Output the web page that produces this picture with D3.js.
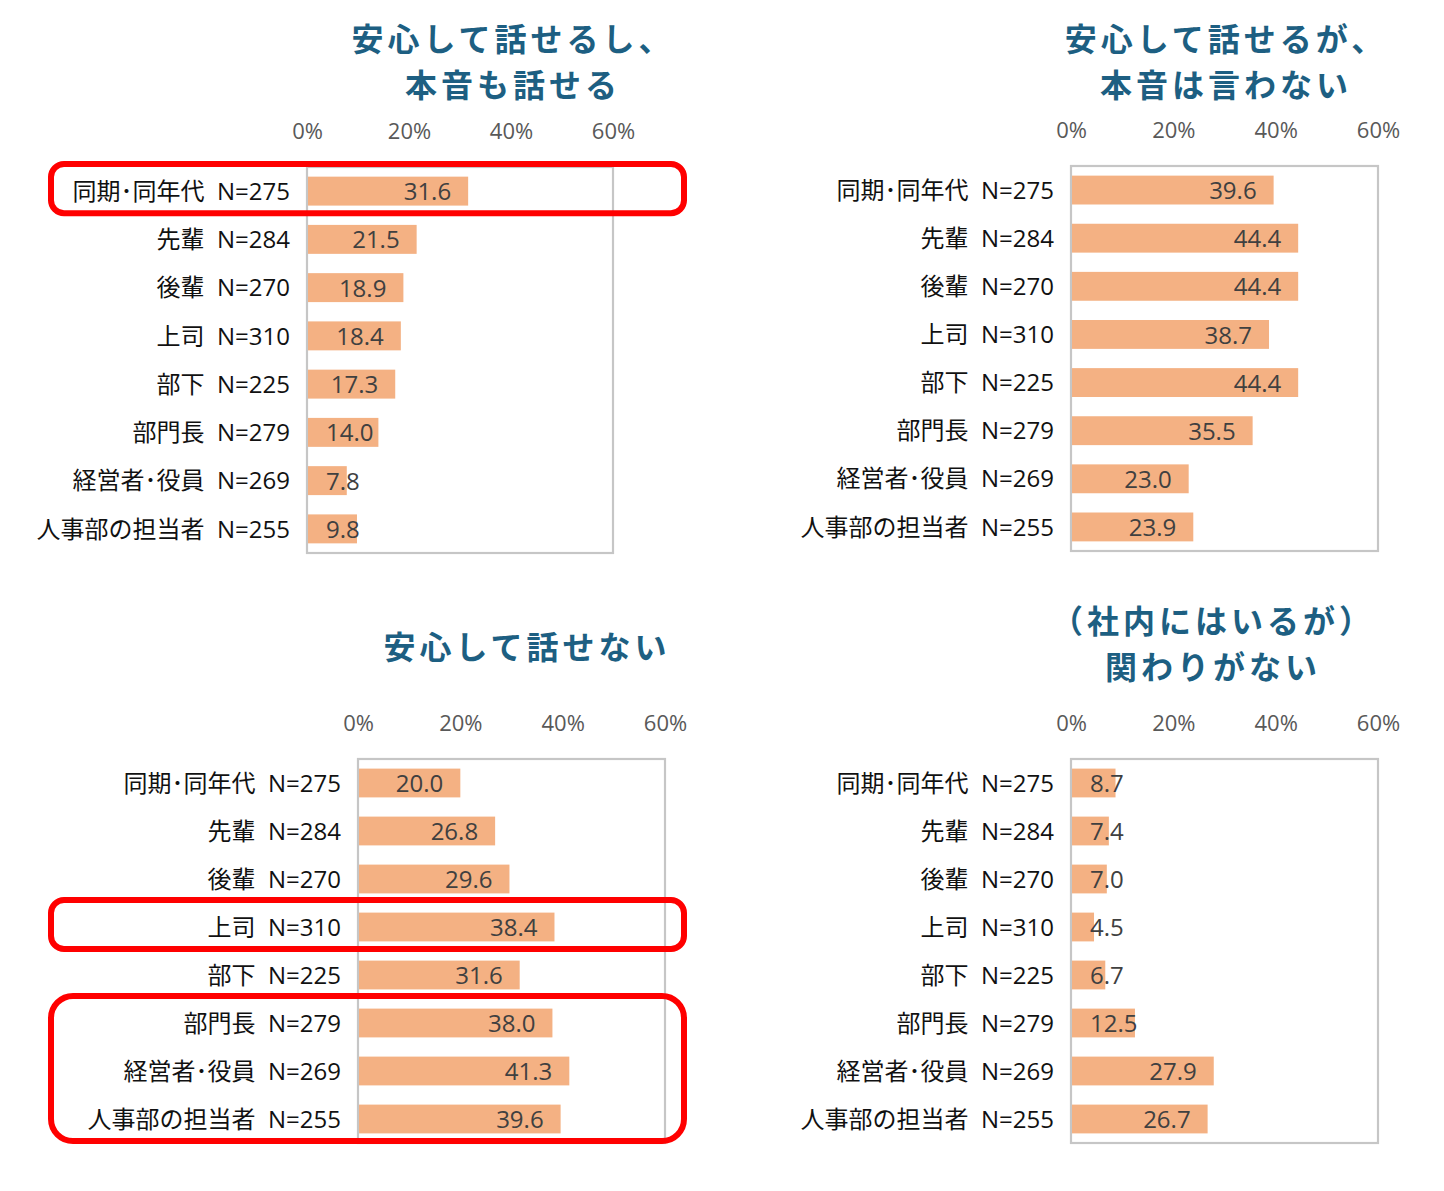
<!DOCTYPE html>
<html><head><meta charset="utf-8">
<script src="https://cdn.jsdelivr.net/npm/d3@7/dist/d3.min.js"></script>
<style>
html,body{margin:0;padding:0;background:#fff;}
svg text{white-space:pre;}
</style></head>
<body>
<svg id="chart" width="1444" height="1191"></svg>
<script>
// ---- data ----
const categories = ["同期･同年代","先輩","後輩","上司","部下","部門長","経営者･役員","人事部の担当者"];
const sampleSizes = [275,284,270,310,225,279,269,255];
const titles1 = ["安心して話せるし、","本音も話せる"];
const titles2 = ["安心して話せるが、","本音は言わない"];
const titles3 = ["安心して話せない"];
const titles4 = ["（社内にはいるが）","関わりがない"];
const values1 = [31.6,21.5,18.9,18.4,17.3,14.0,7.8,9.8];
const values2 = [39.6,44.4,44.4,38.7,44.4,35.5,23.0,23.9];
const values3 = [20.0,26.8,29.6,38.4,31.6,38.0,41.3,39.6];
const values4 = [8.7,7.4,7.0,4.5,6.7,12.5,27.9,26.7];
const tickValues = [0,20,40,60];
const highlights1 = [[0,0]];
const highlights2 = [];
const highlights3 = [[3,3],[5,7]];
const highlights4 = [];

// ---- layout ----
const panels = [
  {titles:titles1, values:values1, hl:highlights1, x0:307, x1:613, y0:167, y1:553, tx:513, ty:39},
  {titles:titles2, values:values2, hl:highlights2, x0:1071, x1:1378, y0:166, y1:551, tx:1226, ty:39},
  {titles:titles3, values:values3, hl:highlights3, x0:358, x1:665, y0:759, y1:1143, tx:527, ty:647},
  {titles:titles4, values:values4, hl:highlights4, x0:1071, x1:1378, y0:759, y1:1143, tx:1213, ty:621}
];
const LATIN = "'Open Sans','Noto Sans CJK JP',sans-serif";
const svg = d3.select("#chart");

panels.forEach(p => {
  const g = svg.append("g");
  const x = d3.scaleLinear().domain([0,60]).range([p.x0, p.x1]);
  const y = d3.scaleBand().domain(d3.range(categories.length)).range([p.y0, p.y1]).paddingInner(0.4).paddingOuter(0.2);

  // title lines
  g.append("g").selectAll("text").data(p.titles).join("text")
    .attr("text-anchor","middle")
    .style("font-family","'Noto Sans CJK JP',sans-serif").style("font-weight","bold")
    .style("font-size","32px").style("letter-spacing","4px")
    .attr("fill","#1d5f82")
    .attr("x", p.tx).attr("y", (d,i)=>p.ty + i*46.5).attr("dy","0.36em").text(d=>d);

  // ticks (top axis labels only)
  const axis = d3.axisTop(x).tickValues(tickValues).tickFormat(d=>d+"%").tickSize(0).tickPadding(0);
  const ag = g.append("g").attr("transform",`translate(0,${p.y0-36})`).call(axis);
  ag.select(".domain").remove();
  ag.selectAll("text").attr("dy","0.35em").attr("y",0)
    .style("font-family",LATIN).style("font-size","22px").attr("fill","#595959");

  // plot box
  g.append("rect").attr("x",p.x0).attr("y",p.y0).attr("width",p.x1-p.x0).attr("height",p.y1-p.y0)
    .attr("fill","none").attr("stroke","#c6c6c6").attr("stroke-width",2.2);

  // bars
  g.append("g").selectAll("rect").data(p.values).join("rect")
    .attr("x", x(0)+1).attr("y",(d,i)=>y(i)).attr("height",y.bandwidth())
    .attr("width", d=>x(d)-x(0)-1).attr("fill","#f4b183");

  // category labels
  g.append("g").selectAll("text").data(categories).join("text")
    .attr("x", p.x0-17).attr("y",(d,i)=>y(i)+y.bandwidth()/2).attr("dy","0.36em")
    .attr("text-anchor","end")
    .style("font-family",LATIN).style("font-size","24px").attr("fill","#111")
    .text((d,i)=>d+"  N="+sampleSizes[i]);

  // value labels
  const vl = g.append("g").selectAll("text").data(p.values).join("text")
    .attr("y",(d,i)=>y(i)+y.bandwidth()/2).attr("dy","0.38em")
    .style("font-family",LATIN).style("font-size","24px").attr("fill","#404040")
    .text(d=>d.toFixed(1));
  vl.each(function(d){
    const tw = this.getComputedTextLength();
    const xs = Math.max(x(0)+19, x(d)-17-tw);
    d3.select(this).attr("x", xs);
  });

  // highlight boxes
  g.append("g").selectAll("rect").data(p.hl).join("rect")
    .attr("x",51).attr("width",684-51)
    .attr("y",d=>y(d[0]) - y.step()*y.paddingOuter() - 3)
    .attr("height",d=>(y(d[1])+y.bandwidth()+y.step()*y.paddingInner()/2) - (y(d[0]) - y.step()*y.paddingOuter()) + 1)
    .attr("rx",d=>d[1]>d[0]?22:13)
    .attr("fill","none").attr("stroke","#ff0000").attr("stroke-width",6);
});
</script>
</body></html>
